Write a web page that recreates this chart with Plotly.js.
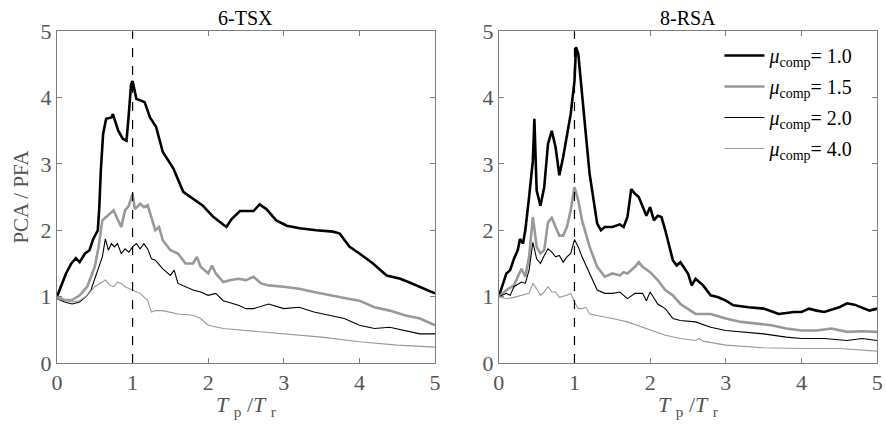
<!DOCTYPE html>
<html>
<head>
<meta charset="utf-8">
<script src="https://cdn.plot.ly/plotly-3.0.1.min.js"></script>
<style>html,body{margin:0;padding:0;background:#fff;}#chart{width:886px;height:439px;}</style>
</head>
<body>
<div id="chart"></div>
<script>
// ---- Panel titles & labels ----
const panelTitles = ["6-TSX", "8-RSA"];
const seriesNames = ["1.0", "1.5", "2.0", "4.0"];
const xTicks = [0, 1, 2, 3, 4, 5];
const yTicks = [0, 1, 2, 3, 4, 5];

// ---- Left panel (6-TSX) ----
const tsx_mu10_x = [0,0.05,0.12,0.19,0.25,0.3,0.37,0.43,0.48,0.54,0.56,0.58,0.61,0.65,0.72,0.74,0.81,0.87,0.92,0.95,0.98,1.0,1.05,1.12,1.16,1.23,1.31,1.4,1.54,1.67,1.8,1.93,2.07,2.24,2.31,2.42,2.6,2.68,2.77,2.9,3.04,3.21,3.43,3.65,3.74,3.87,4.0,4.18,4.36,4.54,4.71,5.0];
const tsx_mu10_y = [1.0,1.15,1.35,1.5,1.58,1.52,1.65,1.7,1.87,2.0,2.35,2.9,3.45,3.68,3.7,3.75,3.5,3.38,3.35,3.75,4.2,4.25,3.98,3.95,3.93,3.7,3.56,3.18,2.93,2.58,2.47,2.37,2.2,2.05,2.17,2.29,2.29,2.39,2.32,2.15,2.07,2.03,2.0,1.98,1.95,1.75,1.65,1.5,1.32,1.27,1.19,1.05];

const tsx_mu15_x = [0,0.1,0.2,0.3,0.4,0.45,0.5,0.55,0.6,0.65,0.7,0.75,0.8,0.85,0.9,0.95,1.0,1.03,1.1,1.15,1.2,1.25,1.3,1.35,1.4,1.5,1.6,1.7,1.8,1.85,1.9,2.0,2.05,2.1,2.2,2.3,2.4,2.5,2.6,2.7,2.8,3.0,3.2,3.4,3.6,3.8,4.0,4.2,4.4,4.6,4.8,5.0];
const tsx_mu15_y = [1.0,0.95,0.95,1.02,1.15,1.3,1.45,1.75,2.15,2.2,2.25,2.3,2.17,2.05,2.3,2.37,2.55,2.32,2.4,2.35,2.38,2.2,2.0,2.05,1.85,1.7,1.65,1.5,1.5,1.6,1.45,1.35,1.47,1.35,1.22,1.25,1.27,1.25,1.3,1.2,1.17,1.15,1.12,1.07,1.02,0.98,0.94,0.84,0.79,0.72,0.67,0.57];

const tsx_mu20_x = [0,0.1,0.2,0.3,0.4,0.45,0.5,0.55,0.6,0.64,0.68,0.72,0.76,0.8,0.85,0.9,0.95,1.0,1.05,1.1,1.15,1.2,1.25,1.3,1.4,1.5,1.55,1.6,1.7,1.8,1.9,2.0,2.1,2.2,2.4,2.5,2.6,2.8,3.0,3.2,3.4,3.6,3.8,4.0,4.2,4.4,4.6,4.8,5.0];
const tsx_mu20_y = [0.97,0.92,0.89,0.92,1.02,1.1,1.27,1.45,1.6,1.87,1.7,1.8,1.75,1.8,1.65,1.72,1.67,1.75,1.8,1.72,1.8,1.72,1.57,1.55,1.42,1.32,1.4,1.2,1.15,1.1,1.07,1.02,1.05,0.94,0.87,0.82,0.82,0.89,0.82,0.84,0.77,0.72,0.67,0.57,0.52,0.54,0.49,0.44,0.44];

const tsx_mu40_x = [0,0.2,0.3,0.4,0.5,0.6,0.64,0.7,0.75,0.8,0.85,0.9,1.0,1.1,1.2,1.25,1.3,1.4,1.6,1.8,1.9,2.0,2.2,2.5,2.8,3.0,3.5,4.0,4.5,5.0];
const tsx_mu40_y = [0.97,0.92,0.94,1.02,1.15,1.22,1.25,1.17,1.15,1.22,1.2,1.15,1.1,1.05,0.94,0.77,0.79,0.79,0.74,0.72,0.67,0.57,0.52,0.49,0.47,0.44,0.39,0.32,0.27,0.24];

// ---- Right panel (8-RSA) ----
const rsa_mu10_x = [0,0.05,0.1,0.15,0.2,0.25,0.28,0.32,0.35,0.4,0.45,0.47,0.5,0.55,0.6,0.65,0.7,0.75,0.8,0.85,0.9,0.95,1.0,1.02,1.05,1.1,1.15,1.2,1.25,1.3,1.35,1.4,1.5,1.6,1.65,1.7,1.75,1.8,1.85,1.9,1.95,2.0,2.05,2.1,2.15,2.2,2.3,2.35,2.4,2.5,2.55,2.6,2.7,2.8,2.9,3.0,3.1,3.3,3.5,3.7,3.9,4.0,4.1,4.2,4.3,4.5,4.6,4.7,4.8,4.9,5.0];
const rsa_mu10_y = [1.0,1.17,1.35,1.4,1.57,1.7,1.87,1.8,2.0,2.5,3.05,3.68,2.6,2.37,2.65,3.3,3.5,3.25,2.83,3.1,3.43,3.75,4.25,4.76,4.66,4.1,3.45,2.85,2.45,2.1,2.0,2.05,2.05,2.09,2.05,2.2,2.62,2.55,2.5,2.37,2.22,2.35,2.15,2.22,2.2,2.0,1.55,1.47,1.52,1.35,1.17,1.27,1.17,1.02,0.99,0.94,0.87,0.84,0.82,0.74,0.77,0.77,0.82,0.79,0.77,0.84,0.9,0.88,0.84,0.79,0.82];

const rsa_mu15_x = [0,0.1,0.2,0.3,0.35,0.4,0.45,0.5,0.55,0.6,0.65,0.7,0.75,0.8,0.85,0.9,0.95,1.0,1.05,1.1,1.2,1.3,1.4,1.5,1.6,1.65,1.7,1.8,1.85,1.9,2.0,2.1,2.2,2.3,2.4,2.5,2.6,2.8,3.0,3.2,3.4,3.6,3.8,4.0,4.2,4.4,4.6,4.8,5.0];
const rsa_mu15_y = [1.0,1.1,1.17,1.42,1.3,1.6,2.2,1.75,1.65,1.7,2.12,2.19,2.05,1.92,1.92,2.05,2.3,2.65,2.45,2.15,1.75,1.45,1.3,1.35,1.32,1.37,1.35,1.45,1.52,1.45,1.37,1.25,1.1,1.02,0.89,0.82,0.74,0.74,0.67,0.62,0.59,0.57,0.52,0.49,0.49,0.52,0.47,0.48,0.47];

const rsa_mu20_x = [0,0.1,0.15,0.2,0.3,0.35,0.4,0.45,0.5,0.55,0.6,0.65,0.7,0.75,0.8,0.85,0.9,0.95,1.0,1.05,1.1,1.2,1.3,1.4,1.5,1.6,1.7,1.8,1.9,1.95,2.0,2.1,2.2,2.3,2.4,2.6,2.8,3.0,3.2,3.5,3.8,4.0,4.3,4.6,4.8,5.0];
const rsa_mu20_y = [1.0,1.05,1.02,1.15,1.22,1.2,1.4,1.82,1.57,1.5,1.62,1.72,1.67,1.6,1.62,1.52,1.6,1.65,1.86,1.75,1.6,1.35,1.1,1.05,1.05,1.07,0.97,1.05,1.05,0.94,1.07,0.89,0.82,0.67,0.64,0.62,0.54,0.49,0.47,0.44,0.39,0.37,0.37,0.34,0.37,0.34];

const rsa_mu40_x = [0,0.1,0.2,0.3,0.4,0.45,0.5,0.55,0.6,0.65,0.7,0.75,0.8,0.9,0.95,1.0,1.05,1.1,1.15,1.2,1.3,1.4,1.5,1.7,1.9,2.0,2.2,2.4,2.6,2.65,2.7,3.0,3.5,4.0,4.5,5.0];
const rsa_mu40_y = [1.0,0.97,0.99,1.02,1.05,1.2,1.12,1.02,1.07,1.15,1.07,1.07,0.99,1.02,1.05,0.92,0.82,0.82,0.84,0.74,0.72,0.7,0.67,0.62,0.54,0.49,0.42,0.37,0.34,0.37,0.33,0.27,0.23,0.22,0.22,0.18];

const styles = [
  {color: "#000000", width: 2.6},
  {color: "#999999", width: 2.6},
  {color: "#000000", width: 1.1},
  {color: "#999999", width: 1.1}
];

const leftX = [tsx_mu10_x, tsx_mu15_x, tsx_mu20_x, tsx_mu40_x];
const leftY = [tsx_mu10_y, tsx_mu15_y, tsx_mu20_y, tsx_mu40_y];
const rightX = [rsa_mu10_x, rsa_mu15_x, rsa_mu20_x, rsa_mu40_x];
const rightY = [rsa_mu10_y, rsa_mu15_y, rsa_mu20_y, rsa_mu40_y];

const traces = [];
for (let i = 0; i < 4; i++) {
  traces.push({
    x: leftX[i], y: leftY[i], xaxis: "x", yaxis: "y",
    type: "scatter", mode: "lines", showlegend: false,
    line: {color: styles[i].color, width: styles[i].width},
    hoverinfo: "skip"
  });
}
for (let i = 0; i < 4; i++) {
  traces.push({
    x: rightX[i], y: rightY[i], xaxis: "x2", yaxis: "y2",
    type: "scatter", mode: "lines", showlegend: true, legendgroup: "g" + i,
    name: "<i>μ</i><sub>comp</sub>= " + seriesNames[i],
    line: {color: styles[i].color, width: styles[i].width},
    hoverinfo: "skip"
  });
}

const serif = "Liberation Serif";
const xTitle = "<i>T</i> <sub>p</sub> /<i>T</i> <sub>r</sub>";
const axisCommon = {
  range: [0, 5], tickvals: xTicks, ticktext: xTicks.map(String),
  showgrid: false, zeroline: false, showline: true, mirror: "ticks",
  linecolor: "#7f7f7f", linewidth: 1, ticks: "inside", ticklen: 5,
  tickcolor: "#7f7f7f", tickfont: {family: serif, size: 22, color: "#555555"}
};
const yDomain = [0.173, 0.929];

const layout = {
  width: 886, height: 439,
  margin: {l: 0, r: 0, t: 0, b: 0},
  paper_bgcolor: "#ffffff", plot_bgcolor: "#ffffff",
  font: {family: serif, color: "#555555"},
  xaxis: Object.assign({}, axisCommon, {domain: [0.0643, 0.491], anchor: "y",
    title: {text: xTitle, font: {family: serif, size: 22, color: "#555555"}, standoff: 2}}),
  yaxis: Object.assign({}, axisCommon, {domain: yDomain, anchor: "x", tickvals: yTicks, ticktext: yTicks.map(String),
    title: {text: "PCA / PFA", font: {family: serif, size: 21, color: "#555555"}, standoff: 6}}),
  xaxis2: Object.assign({}, axisCommon, {domain: [0.563, 0.990], anchor: "y2",
    title: {text: xTitle, font: {family: serif, size: 22, color: "#555555"}, standoff: 2}}),
  yaxis2: Object.assign({}, axisCommon, {domain: yDomain, anchor: "x2", tickvals: yTicks, ticktext: yTicks.map(String)}),
  legend: {
    x: 0.812, y: 0.918, xanchor: "left", yanchor: "top",
    bgcolor: "rgba(0,0,0,0)", borderwidth: 0,
    font: {family: serif, size: 20, color: "#000000"},
    tracegroupgap: 2, itemwidth: 40
  },
  annotations: [
    {text: panelTitles[0], xref: "x domain", yref: "paper", x: 0.5, y: 1 - 18/439, xanchor: "center", yanchor: "middle",
     showarrow: false, font: {family: serif, size: 20, color: "#000000"}},
    {text: panelTitles[1], xref: "x2 domain", yref: "paper", x: 0.5, y: 1 - 18/439, xanchor: "center", yanchor: "middle",
     showarrow: false, font: {family: serif, size: 20, color: "#000000"}}
  ],
  shapes: [
    {type: "line", xref: "x", yref: "y", x0: 1, x1: 1, y0: 0, y1: 5, line: {color: "#000000", width: 1.2, dash: "dash"}},
    {type: "line", xref: "x2", yref: "y2", x0: 1, x1: 1, y0: 0, y1: 5, line: {color: "#000000", width: 1.2, dash: "dash"}}
  ]
};

Plotly.newPlot("chart", traces, layout, {staticPlot: true, displayModeBar: false});
</script>
</body>
</html>
